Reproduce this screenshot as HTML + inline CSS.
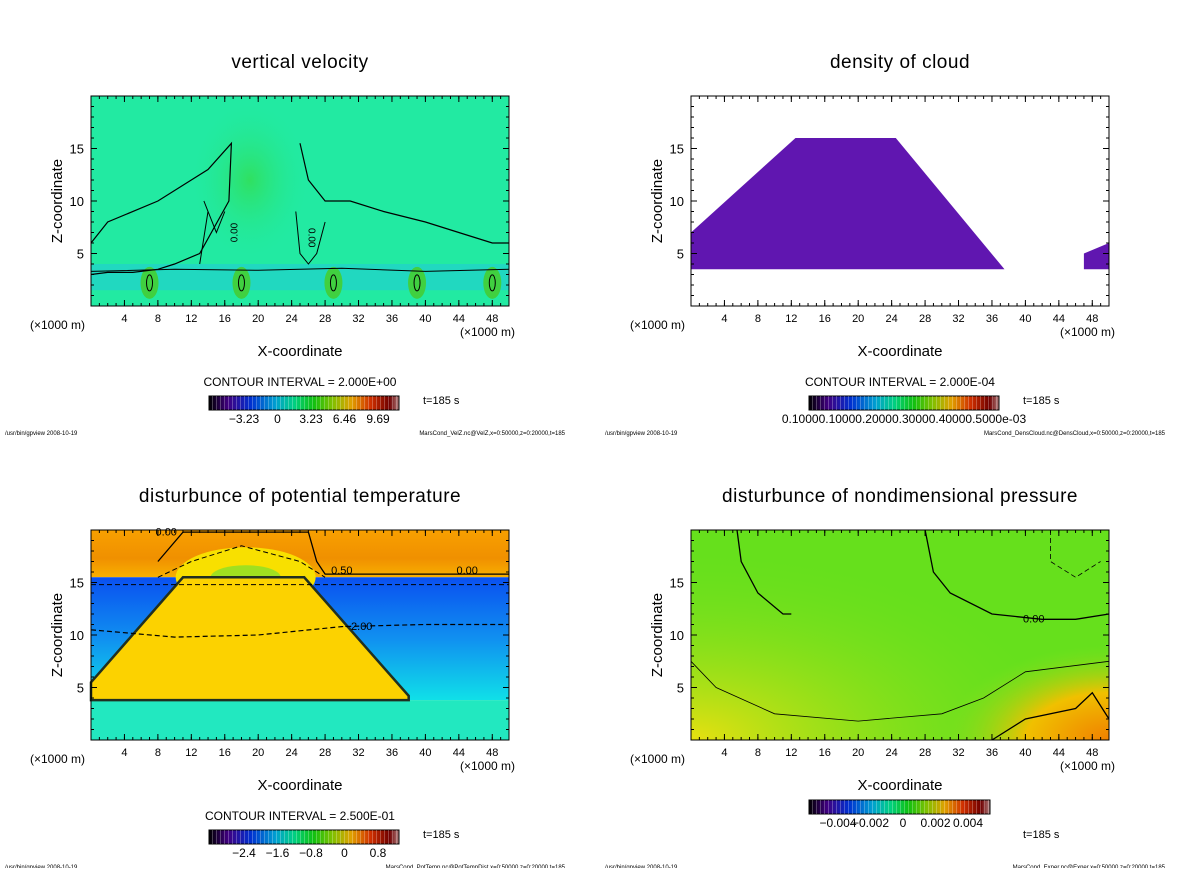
<!DOCTYPE html>
<html><head><meta charset="utf-8"><style>
body{margin:0;background:#fff;width:1200px;height:868px;overflow:hidden;font-family:"Liberation Sans",sans-serif}
svg text{font-family:"Liberation Sans",sans-serif;fill:#000}
</style></head><body>
<svg id="s" width="1200" height="868" xmlns="http://www.w3.org/2000/svg">
<defs>
<linearGradient id="rainbow" x1="0" x2="1" y1="0" y2="0">
<stop offset="0" stop-color="#000"/><stop offset="0.1" stop-color="#400080"/><stop offset="0.22" stop-color="#0030d0"/><stop offset="0.35" stop-color="#00a0d0"/><stop offset="0.45" stop-color="#00d080"/><stop offset="0.55" stop-color="#10c010"/><stop offset="0.65" stop-color="#80c000"/><stop offset="0.75" stop-color="#e0a000"/><stop offset="0.85" stop-color="#d03000"/><stop offset="0.95" stop-color="#700000"/><stop offset="1" stop-color="#b08080"/>
</linearGradient>
<pattern id="stripes" width="4" height="20" patternUnits="userSpaceOnUse"><rect x="0" y="0" width="1" height="20" fill="rgba(255,255,255,0.25)"/></pattern>
<radialGradient id="vvcenter" cx="0.5" cy="0.5" r="0.5"><stop offset="0" stop-color="#30e060"/><stop offset="1" stop-color="#20eaa0" stop-opacity="0"/></radialGradient>
<linearGradient id="blueSide" x1="0" x2="0" y1="0" y2="1"><stop offset="0" stop-color="#0a50f0"/><stop offset="0.5" stop-color="#1090f0"/><stop offset="1" stop-color="#10e0e8"/></linearGradient>
<linearGradient id="orangeTop" x1="0" x2="0" y1="0" y2="1"><stop offset="0" stop-color="#f8a000"/><stop offset="0.6" stop-color="#f09000"/><stop offset="1" stop-color="#f8b000"/></linearGradient>
<radialGradient id="presCorner" cx="1" cy="1" r="0.9"><stop offset="0" stop-color="#f08000"/><stop offset="0.5" stop-color="#f0c000"/><stop offset="1" stop-color="#80e020" stop-opacity="0"/></radialGradient>
<radialGradient id="presLeft" cx="0" cy="1" r="0.9"><stop offset="0" stop-color="#e8e010"/><stop offset="1" stop-color="#70e020" stop-opacity="0"/></radialGradient>
</defs>
<g id="root"></g>
</svg>
<script>
const NS="http://www.w3.org/2000/svg";
const xTicks=[4,8,12,16,20,24,28,32,36,40,44,48];
const zTicks=[5,10,15];
const titles=["vertical velocity","density of cloud","disturbunce of potential temperature","disturbunce of nondimensional pressure"];
const intervals=["CONTOUR INTERVAL = 2.000E+00","CONTOUR INTERVAL = 2.000E-04","CONTOUR INTERVAL = 2.500E-01",""];
const cbLabelsTL=["\u22123.23","0","3.23","6.46","9.69"];
const cbLabelsBL=["\u22122.4","\u22121.6","\u22120.8","0","0.8"];
const cbLabelsBR=["\u22120.004","\u22120.002","0","0.002","0.004"];
const cbLabelTR="0.10000.10000.20000.30000.40000.5000e-03";
const footers=["MarsCond_VelZ.nc@VelZ,x=0:50000,z=0:20000,t=185","MarsCond_DensCloud.nc@DensCloud,x=0:50000,z=0:20000,t=185","MarsCond_PotTemp.nc@PotTempDist,x=0:50000,z=0:20000,t=185","MarsCond_Exner.nc@Exner,x=0:50000,z=0:20000,t=185"];
const cloudX=[0,0,12.5,24.5,37.5];
const cloudZ=[3.5,7,16,16,3.5];
const cloud2X=[47,50,50,47];
const cloud2Z=[3.5,3.5,6,5];
const ptX=[0,0,11,25.5,38,38];
const ptZ=[3.8,5.5,15.5,15.5,4.2,3.8];
const p0aX=[5.5,6,8,11,12];const p0aZ=[20,17,14,12,12];
const p0bX=[28,29,31,36,42,46,50];const p0bZ=[20,16,14,12,11.5,11.5,12];

const root=document.getElementById('root');
function el(tag,attrs,parent){const e=document.createElementNS(NS,tag);for(const k in attrs)e.setAttribute(k,attrs[k]);(parent||root).appendChild(e);return e;}
function txt(s,x,y,size,anchor,parent){const t=el('text',{x:x,y:y,'font-size':size,'text-anchor':anchor||'middle'},parent);t.textContent=s;return t;}

function panel(i,ox,oy){
 const g=el('g',{});
 
 
 const L=ox+91,R=ox+509,T=oy+96,B=oy+306;
 const sx=v=>L+(R-L)*v/50, sz=v=>B-(B-T)*v/20;
 const pathOf=(X,Z,close)=>X.map((v,j)=>(j?'L':'M')+sx(v).toFixed(1)+' '+sz(Z[j]).toFixed(1)).join(' ')+(close?' Z':'');
 const plot=el('g',{},g);
 
 
 if(i===0){
  el('rect',{x:L,y:T,width:R-L,height:B-T,fill:'#22eaa2'},plot);
  el('ellipse',{cx:sx(19),cy:sz(12),rx:60,ry:80,fill:'url(#vvcenter)'},plot);
  el('rect',{x:L,y:sz(4),width:R-L,height:sz(1.5)-sz(4),fill:'#20c8d8',opacity:0.55},plot);
  [7,18,29,39,48].forEach(c=>{el('ellipse',{cx:sx(c),cy:sz(2.2),rx:9,ry:16,fill:'#40d040'},plot);el('ellipse',{cx:sx(c),cy:sz(2.2),rx:3,ry:8,fill:'none',stroke:'#000','stroke-width':1},plot);});
  const cx=[[0,2,8,12,14,16.8,16.5,13,10,8,5,2,0],[25,26,28,31,35,40,44,48,50]];
  const cz=[[6,8,10,12,13,15.5,10,5,4,3.5,3.2,3.2,3],[15.5,12,10,10,9,8,7,6,6]];
  cx.forEach((X,j)=>el('path',{d:pathOf(X,cz[j]),fill:'none',stroke:'#000','stroke-width':1.2},plot));
  el('path',{d:pathOf([0,10,20,30,40,50],[3.3,3.5,3.4,3.6,3.3,3.5]),fill:'none',stroke:'#000','stroke-width':1},plot);
  el('path',{d:pathOf([13,14,13.5,15,16],[4,9,10,7,9]),fill:'none',stroke:'#000','stroke-width':1},plot);
  el('path',{d:pathOf([24.5,25,26,27,28],[9,5,4,5,8]),fill:'none',stroke:'#000','stroke-width':1},plot);
  txt('0.00',sx(17.5),sz(7),10,'middle',plot).setAttribute('transform','rotate(-90 '+sx(17.5)+' '+sz(7)+')');
  txt('0.00',sx(26),sz(6.5),10,'middle',plot).setAttribute('transform','rotate(90 '+sx(26)+' '+sz(6.5)+')');
 } else if(i===1){
  el('path',{d:pathOf(cloudX,cloudZ,true),fill:'#6016b0'},plot);
  el('path',{d:pathOf(cloud2X,cloud2Z,true),fill:'#6016b0'},plot);
 } else if(i===2){
  el('rect',{x:L,y:T,width:R-L,height:sz(15.5)-T,fill:'url(#orangeTop)'},plot);
  el('rect',{x:L,y:sz(15.5),width:R-L,height:sz(3.8)-sz(15.5),fill:'url(#blueSide)'},plot);
  el('rect',{x:L,y:sz(3.8),width:R-L,height:B-sz(3.8),fill:'#22e8c0'},plot);
  el('ellipse',{cx:sx(18.5),cy:sz(15.5),rx:70,ry:30,fill:'#f8e000'},plot);
  el('ellipse',{cx:sx(18.5),cy:sz(15.5),rx:35,ry:12,fill:'#a0e020'},plot);
  el('path',{d:pathOf(ptX,ptZ,true),fill:'#fcd200',stroke:'#203020','stroke-width':2.5},plot);
  el('path',{d:pathOf([8,11,12],[17,19.8,19.8])+' '+pathOf([12,26,27,28,50],[19.8,19.8,17,15.8,15.8]).replace('M','L'),fill:'none',stroke:'#000','stroke-width':1.3},plot);
  el('path',{d:pathOf([0,10,20,30,40,50],[10.5,9.8,10,10.8,11,11]),fill:'none',stroke:'#000','stroke-width':1.2,'stroke-dasharray':'5,3'},plot);
  el('path',{d:pathOf([8,12,18,25,28],[15.5,17,18.5,17,15.5]),fill:'none',stroke:'#000','stroke-width':1,'stroke-dasharray':'5,3'},plot);
  el('path',{d:pathOf([0,50],[14.8,14.8]),fill:'none',stroke:'#000','stroke-width':1,'stroke-dasharray':'5,3'},plot);
  txt('0.00',sx(9),sz(19.5),11,'middle',plot);txt('0.00',sx(45),sz(15.8),11,'middle',plot);
  txt('\u22122.00',sx(32),sz(10.5),11,'middle',plot);txt('0.50',sx(30),sz(15.8),11,'middle',plot);
 } else {
  el('rect',{x:L,y:T,width:R-L,height:B-T,fill:'#66e01c'},plot);
  el('rect',{x:L,y:T,width:R-L,height:B-T,fill:'url(#presLeft)'},plot);
  el('rect',{x:sx(28),y:sz(10),width:R-sx(28),height:B-sz(10),fill:'url(#presCorner)'},plot);
  el('path',{d:pathOf(p0aX,p0aZ),fill:'none',stroke:'#000','stroke-width':1.3},plot);
  el('path',{d:pathOf(p0bX,p0bZ),fill:'none',stroke:'#000','stroke-width':1.3},plot);
  el('path',{d:pathOf([0,3,10,20,30,35,40,50],[7.5,5,2.5,1.8,2.5,4,6.5,7.5]),fill:'none',stroke:'#000','stroke-width':0.8},plot);
  el('path',{d:pathOf([36,40,46,48,50],[0,2,3,4.5,2]),fill:'none',stroke:'#000','stroke-width':1.3},plot);
  el('path',{d:pathOf([43,43,46,49],[20,17,15.5,17]),fill:'none',stroke:'#000','stroke-width':0.8,'stroke-dasharray':'5,3'},plot);
  txt('0.00',sx(41),sz(11.2),11,'middle',plot);
 }
 el('rect',{x:L,y:T,width:R-L,height:B-T,fill:'none',stroke:'#000','stroke-width':1},g);
 xTicks.forEach(v=>{el('line',{x1:sx(v),x2:sx(v),y1:B,y2:B-6,stroke:'#000'},g);el('line',{x1:sx(v),x2:sx(v),y1:T,y2:T+6,stroke:'#000'},g);txt(String(v),sx(v),B+16,11,'middle',g);});
 for(let v=1;v<50;v++){el('line',{x1:sx(v),x2:sx(v),y1:B,y2:B-3,stroke:'#000'},g);el('line',{x1:sx(v),x2:sx(v),y1:T,y2:T+3,stroke:'#000'},g);}
 for(let v=1;v<20;v++){el('line',{x1:L,x2:L+3,y1:sz(v),y2:sz(v),stroke:'#000'},g);el('line',{x1:R,x2:R-3,y1:sz(v),y2:sz(v),stroke:'#000'},g);}
 zTicks.forEach(v=>{el('line',{x1:L,x2:L+6,y1:sz(v),y2:sz(v),stroke:'#000'},g);el('line',{x1:R,x2:R-6,y1:sz(v),y2:sz(v),stroke:'#000'},g);txt(String(v),L-7,sz(v)+5,13,'end',g);});
 const t=txt(titles[i],ox+300,oy+68,19,'middle',g);t.setAttribute('letter-spacing','0.5');
 const yl=txt('Z-coordinate',ox+62,oy+201,15,'middle',g);yl.setAttribute('transform','rotate(-90 '+(ox+62)+' '+(oy+201)+')');
 const xl=txt('X-coordinate',ox+300,oy+356,15,'middle',g);
 txt('(\u00d71000 m)',ox+30,oy+329,12,'start',g);txt('(\u00d71000 m)',ox+515,oy+336,12,'end',g);
 if(intervals[i]){const ci=txt(intervals[i],ox+300,oy+386,12,'middle',g);}
 const cby=i===3?oy+366:oy+396, cbx=ox+209, cbw=i===3?181:190;
 const cb=el('g',{},g);
 el('rect',{x:cbx,y:cby,width:cbw,height:14,fill:'url(#rainbow)',stroke:'#000'},cb);
 el('rect',{x:cbx,y:cby,width:cbw,height:14,fill:'url(#stripes)'},cb);
 const labs=i===0?cbLabelsTL:i===2?cbLabelsBL:i===3?cbLabelsBR:null;
 if(labs){const start=i===3?cbx+29:cbx+35,step=i===3?32.5:33.5;labs.forEach((s,j)=>txt(s,start+step*j,cby+27,12,'middle',cb));}
 else txt(cbLabelTR,cbx+95,cby+27,12,'middle',cb);
 txt('t=185 s',ox+423,oy+404,11,'start',g).setAttribute('fill','#555');
 txt('/usr/bin/gpview  2008-10-19',ox+5,oy+435,6,'start',g);
 txt(footers[i],ox+565,oy+435,6,'end',g);
}
panel(0,0,0);panel(1,600,0);panel(2,0,434);panel(3,600,434);
</script>
</body></html>
